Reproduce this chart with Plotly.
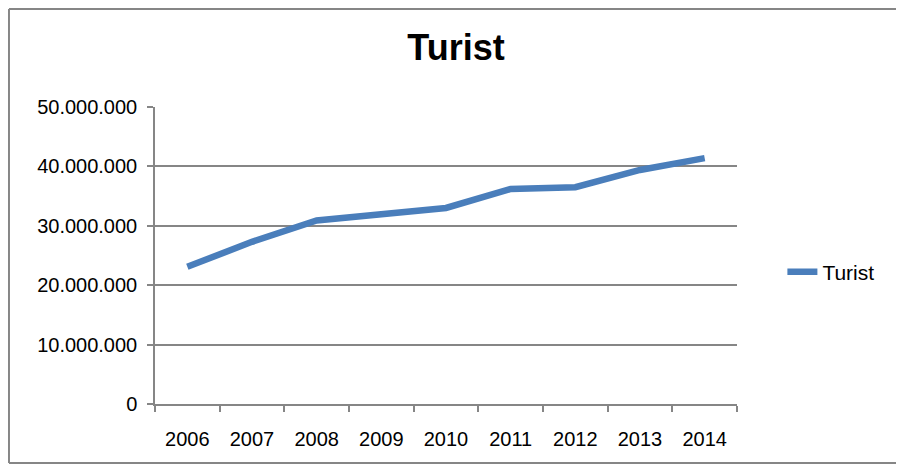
import plotly.graph_objects as go

# dados
anos = ["2006", "2007", "2008", "2009", "2010", "2011", "2012", "2013", "2014"]
turistas = [23100000, 27300000, 30900000, 32000000, 33000000, 36200000, 36500000, 39400000, 41400000]
nome_serie = "Turist"
titulo = "Turist"

cor_linha = "#4A7EBB"
cor_eixo = "#868686"
fonte = "Liberation Sans"

fig = go.Figure()
fig.add_trace(go.Scatter(x=anos, y=turistas, mode="lines", name=nome_serie,
                         line=dict(color=cor_linha, width=6.5)))

# borda externa do grafico (so esquerda, topo e base, como no original)
bx0, bx1, by0, by1 = -0.2509, 1.32, -0.1987, 1.330
borda = [
    dict(type="line", xref="paper", yref="paper", x0=bx0, x1=bx0, y0=by0, y1=by1,
         line=dict(color=cor_eixo, width=2)),
    dict(type="line", xref="paper", yref="paper", x0=bx0, x1=bx1, y0=by1, y1=by1,
         line=dict(color=cor_eixo, width=2)),
    dict(type="line", xref="paper", yref="paper", x0=bx0, x1=bx1, y0=by0, y1=by0,
         line=dict(color=cor_eixo, width=2)),
]

# a pagina tem margem de 8px no body, por isso a figura e um pouco menor
fig.update_layout(
    width=896, height=458,
    margin=dict(l=147, r=167, t=99, b=62),
    paper_bgcolor="white", plot_bgcolor="white",
    separators=",.",
    font=dict(family=fonte, size=20, color="black"),
    title=dict(text="<b>" + titulo + "</b>", x=0.5, xanchor="center", y=0.913, yanchor="middle",
               font=dict(family=fonte, size=36, color="black")),
    showlegend=True,
    legend=dict(x=1.078, y=0.444, xanchor="left", yanchor="middle",
                font=dict(family=fonte, size=21), bgcolor="rgba(0,0,0,0)"),
    shapes=borda,
)

fig.update_yaxes(range=[0, 50000000], dtick=10000000, tickformat=",.0f",
                 showgrid=True, gridcolor=cor_eixo, gridwidth=1.5,
                 showline=True, linecolor=cor_eixo, linewidth=1.5,
                 ticks="outside", ticklen=6, tickcolor=cor_eixo, tickwidth=1.5,
                 ticklabelstandoff=6, zeroline=False, fixedrange=True)
fig.update_xaxes(type="category", tickson="boundaries", range=[-0.5, len(anos) - 0.5],
                 showline=True, linecolor=cor_eixo, linewidth=1.5,
                 ticks="outside", ticklen=6, tickcolor=cor_eixo, tickwidth=1.5,
                 ticklabelstandoff=16, showgrid=False, fixedrange=True)

fig.write_html("out.html")
